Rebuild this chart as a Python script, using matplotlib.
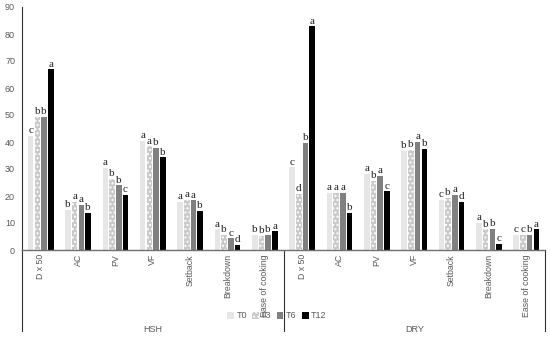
import matplotlib
matplotlib.use("Agg")
import matplotlib.pyplot as plt
import numpy as np

# Data.
params = ["D x 50", "AC", "PV", "VF", "Setback", "Breakdown", "Ease of cooking"]
groups = ["HSH", "DRY"]
series = ["T0", "T3", "T6", "T12"]

hsh_t0 = [42.3, 14.8, 30.3, 40.5, 17.9, 7.6, 5.7]
hsh_t3 = [49.2, 17.8, 26.3, 38.4, 18.5, 5.7, 5.3]
hsh_t6 = [49.4, 16.8, 23.9, 37.8, 18.4, 4.3, 5.7]
hsh_t12 = [66.9, 13.8, 20.3, 34.3, 14.5, 2.0, 6.9]

dry_t0 = [30.6, 21.0, 28.2, 36.6, 18.5, 10.1, 5.6]
dry_t3 = [20.8, 21.0, 25.7, 37.1, 19.3, 7.6, 5.6]
dry_t6 = [39.8, 21.0, 27.3, 39.9, 20.5, 7.9, 5.7]
dry_t12 = [82.8, 13.8, 21.7, 37.3, 17.9, 2.2, 7.6]

hsh_letters = [["c", "b", "b", "a"], ["b", "a", "a", "b"], ["a", "b", "b", "c"],
               ["a", "a", "b", "b"], ["a", "a", "a", "b"], ["a", "b", "c", "d"],
               ["b", "b", "b", "a"]]
dry_letters = [["c", "d", "b", "a"], ["a", "a", "a", "b"], ["a", "b", "a", "c"],
               ["b", "b", "a", "b"], ["c", "b", "a", "d"], ["a", "b", "b", "c"],
               ["c", "c", "b", "a"]]

values = [hsh_t0 + dry_t0, hsh_t3 + dry_t3, hsh_t6 + dry_t6, hsh_t12 + dry_t12]
letters = hsh_letters + dry_letters

plt.rcParams["font.family"] = ["Liberation Sans", "DejaVu Sans"]

colors = ["#e6e6e6", "#c9c9c9", "#808080", "#000000"]
hatches = [None, "....", None, None]
edges = ["#e6e6e6", "white", "#808080", "#000000"]

fig = plt.figure(figsize=(5.5, 3.37), dpi=100)
ax = fig.add_axes([22 / 550, 1 - 250 / 337, 523 / 550, 243 / 337])

x = np.arange(len(params) * len(groups))
width = 0.15
offsets = [-0.27, -0.09, 0.09, 0.27]

for i, name in enumerate(series):
    bars = ax.bar(x + offsets[i], values[i], width, color=colors[i],
                  hatch=hatches[i], edgecolor=edges[i], linewidth=0, label=name)
    for j, b in enumerate(bars):
        ax.text(b.get_x() + b.get_width() / 2, b.get_height() + 0.3, letters[j][i],
                ha="center", va="bottom", fontsize=8, family="Liberation Serif",
                color="#222222")

ax.set_xlim(-0.5, len(x) - 0.5)
ax.set_ylim(0, 90)
ax.set_yticks(np.arange(0, 91, 10))
ax.tick_params(axis="y", length=0, labelsize=6.5, labelcolor="#595959", pad=5)
ax.set_xticks(x)
ax.set_xticklabels(params * 2, rotation=90, fontsize=6.3, color="#595959")
ax.tick_params(axis="x", length=0, pad=3)

for s in ["top", "right"]:
    ax.spines[s].set_visible(False)
ax.spines["left"].set_color("#333333")
ax.spines["left"].set_linewidth(0.8)
ax.spines["bottom"].set_color("#707070")
ax.spines["bottom"].set_linewidth(1.0)

# group separators and labels below the axis
trans = ax.get_xaxis_transform()
bottom = -(331 - 250) / 243
for xs in [-0.5, 6.5, 13.5]:
    ax.plot([xs, xs], [0, bottom], transform=trans, color="#333333",
            linewidth=0.8, clip_on=False)
for k, g in enumerate(groups):
    ax.text(3 + 7 * k, -(330 - 250) / 243, g, transform=trans, ha="center",
            va="center", fontsize=6.5, color="#595959")

fig.legend(loc="center", bbox_to_anchor=(277 / 550, 1 - 316 / 337), ncol=4,
           frameon=False, fontsize=6.5, handlelength=0.7, handleheight=0.7,
           handletextpad=0.3, columnspacing=0.6, labelcolor="#595959")

fig.savefig("out.png", dpi=100)
